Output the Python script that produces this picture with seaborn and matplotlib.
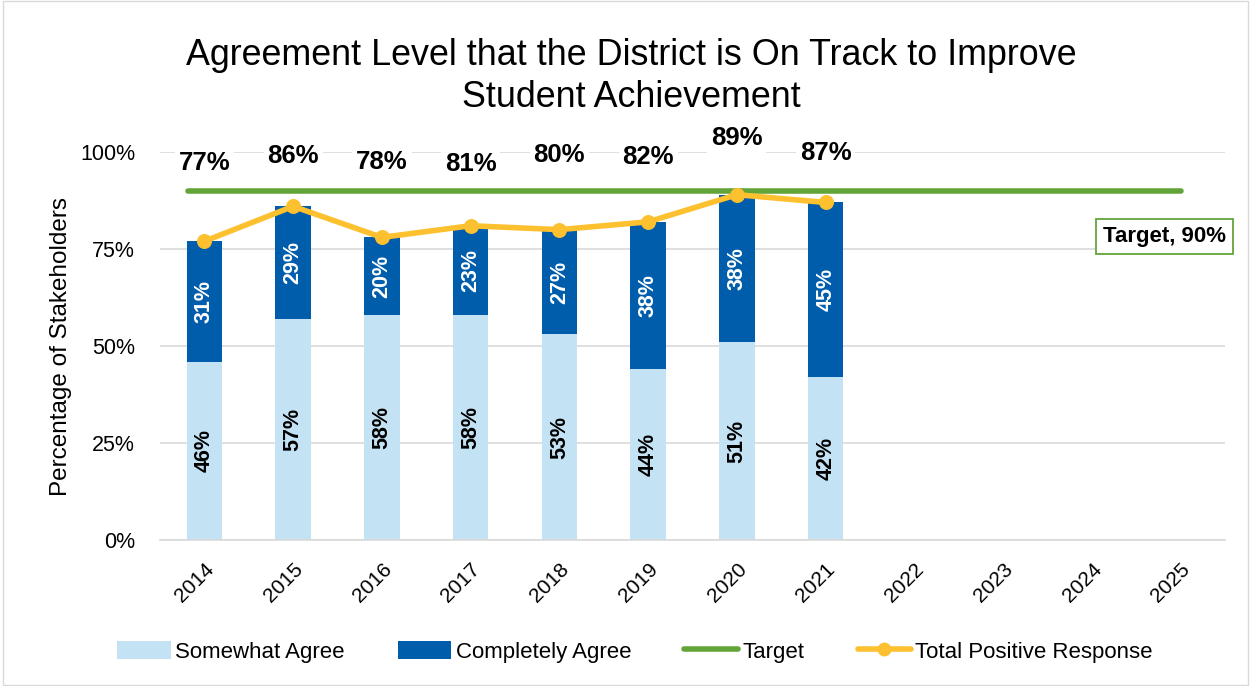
import numpy as np
import pandas as pd
import matplotlib
matplotlib.use("Agg")
import matplotlib.pyplot as plt
import seaborn as sns
from matplotlib.patches import Patch
from matplotlib.lines import Line2D

years = ["2014", "2015", "2016", "2017", "2018", "2019", "2020", "2021",
         "2022", "2023", "2024", "2025"]
somewhat = [46, 57, 58, 58, 53, 44, 51, 42]
completely = [31, 29, 20, 23, 27, 38, 38, 45]
total = [77, 86, 78, 81, 80, 82, 89, 87]
target = 90
total_label_y = [97.2, 99.0, 97.4, 96.9, 99.2, 98.7, 103.6, 99.7]

C_LIGHT = "#C3E3F4"
C_DARK = "#005DAB"
C_GREEN = "#62A43A"
C_YELLOW = "#FDC02F"

sns.set_theme(style="white")
plt.rcParams['font.family'] = ['Liberation Sans', 'DejaVu Sans']
plt.rcParams['text.color'] = 'black'
plt.rcParams['axes.labelcolor'] = 'black'
plt.rcParams['xtick.color'] = 'black'
plt.rcParams['ytick.color'] = 'black'

n = len(somewhat)
df = pd.DataFrame({
    "year": years[:n],
    "somewhat": somewhat,
    "stack_top": [s + c for s, c in zip(somewhat, completely)],
})

fig = plt.figure(figsize=(12.5, 6.86), dpi=100)
ax = fig.add_axes([0.128, 0.2128, 0.852, 0.5656])

# Completely Agree stacked on top: draw full stack height, then the lower part
sns.barplot(data=df, x="year", y="stack_top", order=years, color=C_DARK,
            width=0.40, saturation=1, linewidth=0, ax=ax, zorder=2)
sns.barplot(data=df, x="year", y="somewhat", order=years, color=C_LIGHT,
            width=0.40, saturation=1, linewidth=0, ax=ax, zorder=2)

# Target line
ax.plot([-0.18, len(years) - 1], [target, target], color=C_GREEN, lw=4,
        solid_capstyle="round", zorder=3)

# Total positive response
sns.lineplot(x=np.arange(n), y=total, color=C_YELLOW, lw=4, marker="o",
             markersize=10, markeredgecolor=C_YELLOW, ax=ax, zorder=4)

# Segment labels
for i in range(n):
    ax.text(i, somewhat[i] / 2, f"{somewhat[i]}%", rotation=90, ha="center",
            va="center", fontsize=15.5, fontweight="bold", color="black", zorder=5)
    ax.text(i, somewhat[i] + completely[i] / 2, f"{completely[i]}%", rotation=90,
            ha="center", va="center", fontsize=15.5, fontweight="bold",
            color="white", zorder=5)
    ax.text(i, total_label_y[i], f"{total[i]}%", ha="center", va="center",
            fontsize=18.5, fontweight="bold", color="black", zorder=5,
            clip_on=False,
            bbox=dict(boxstyle="square,pad=0.15", fc="white", ec="none"))

# Target label box
ax.text(10.82, 78.2, "Target, 90%", ha="center", va="center",
        fontsize=16, fontweight="bold", color="black", clip_on=False, zorder=6,
        bbox=dict(boxstyle="square,pad=0.3", fc="white", ec=C_GREEN, lw=1.3))

ax.set_ylim(0, 100)
ax.set_xlim(-0.5, len(years) - 0.5)
ax.set_yticks([0, 25, 50, 75, 100])
ax.set_yticklabels(["0%", "25%", "50%", "75%", "100%"], fontsize=15.5)
ax.yaxis.grid(True, color="#D9D9D9", lw=1.2, zorder=0)
ax.set_axisbelow(True)
for s in ["top", "right", "left"]:
    ax.spines[s].set_visible(False)
ax.spines["bottom"].set_color("#D9D9D9")
ax.spines["bottom"].set_linewidth(1.2)
ax.tick_params(axis="y", length=0, pad=18)
ax.tick_params(axis="x", length=0, pad=14)
ax.set_xticks(range(len(years)))
ax.set_xticklabels(years, rotation=45, fontsize=15, ha="right",
                   rotation_mode="anchor")
ax.set_xlabel("")
ax.set_ylabel("Percentage of Stakeholders", fontsize=17.5, labelpad=6)

fig.text(0.505, 0.888,
         "Agreement Level that the District is On Track to Improve\nStudent Achievement",
         fontsize=25.8, ha="center", va="center", linespacing=1.25)

handles = [
    Patch(facecolor=C_LIGHT, edgecolor="none", label="Somewhat Agree"),
    Patch(facecolor=C_DARK, edgecolor="none", label="Completely Agree"),
    Line2D([0], [0], color=C_GREEN, lw=4, label="Target"),
    Line2D([0], [0], color=C_YELLOW, lw=4, marker="o", markersize=9,
           label="Total Positive Response"),
]
fig.legend(handles=handles, loc="center", bbox_to_anchor=(0.508, 0.05), ncol=4,
           frameon=False, fontsize=16, handlelength=2.4, columnspacing=2.4,
           handletextpad=0.2, handleheight=0.9)

fig.patches.append(plt.Rectangle((0.002, 0.002), 0.996, 0.996,
                                 transform=fig.transFigure, fill=False,
                                 ec="#D9D9D9", lw=1))

fig.savefig("out.png", dpi=100)
